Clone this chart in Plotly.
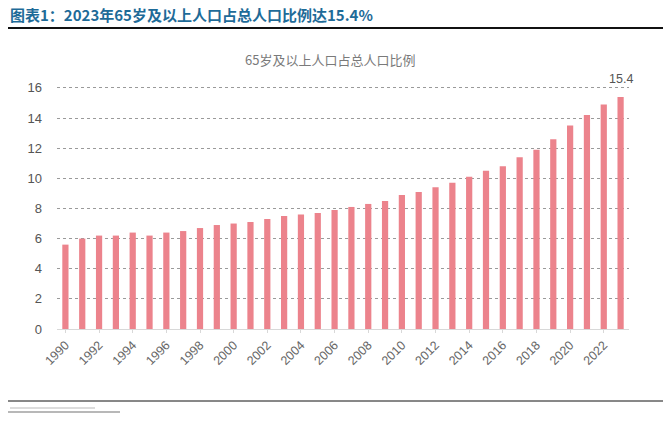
import plotly.graph_objects as go

years = list(range(1990, 2024))
ratio = [5.6, 6.0, 6.2, 6.2, 6.4, 6.2, 6.4, 6.5, 6.7, 6.9,
         7.0, 7.1, 7.3, 7.5, 7.6, 7.7, 7.9, 8.1, 8.3, 8.5,
         8.9, 9.1, 9.4, 9.7, 10.1, 10.5, 10.8, 11.4, 11.9, 12.6,
         13.5, 14.2, 14.9, 15.4]
tick_years = list(range(1990, 2024, 2))
tick_labels = [str(y) for y in tick_years]
y_ticks = [0, 2, 4, 6, 8, 10, 12, 14, 16]

fig = go.Figure()
fig.add_trace(go.Bar(
    x=years, y=ratio,
    marker=dict(color="#ec838c", line=dict(width=0)),
    showlegend=False,
))

W, H = 663, 421
L, R, T, B = 57, 34, 84, 92

fig.update_layout(
    width=W, height=H,
    margin=dict(l=L, r=R, t=T, b=B, pad=0),
    paper_bgcolor="white", plot_bgcolor="white",
    bargap=0.63,
    font=dict(family="Noto Sans CJK SC, Noto Sans, sans-serif", color="#666"),
    xaxis=dict(
        range=[1989.5, 2023.5],
        tickmode="array", tickvals=tick_years, ticktext=tick_labels,
        tickangle=-45,
        tickfont=dict(size=12.5, color="#666", family="Liberation Sans, Arial, sans-serif"),
        showgrid=False, showline=True, linecolor="#d8d8d8", linewidth=1,
        ticks="outside", ticklen=3, tickcolor="#d8d8d8", zeroline=False,
    ),
    yaxis=dict(
        range=[0, 16.26],
        tickvals=y_ticks,
        tickfont=dict(size=13, color="#555", family="Liberation Sans, Arial, sans-serif"),
        showgrid=True, gridcolor="#9a9a9a", griddash="dot", gridwidth=1,
        zeroline=False, showline=False, ticks="", ticklabelstandoff=14,
    ),
)

def px_x(px):
    return (px - L) / (W - L - R)

def px_y(py):
    return (H - B - py) / (H - T - B)

# Header title
fig.add_annotation(
    xref="paper", yref="paper",
    x=px_x(8), y=px_y(15),
    xanchor="left", yanchor="middle", showarrow=False,
    text="<b>图表1：2023年65岁及以上人口占总人口比例达15.4%</b>",
    font=dict(size=15, color="#1e6b98", family="Noto Sans CJK SC"),
)
# Chart title
fig.add_annotation(
    xref="paper", yref="paper",
    x=px_x(330), y=px_y(60),
    xanchor="center", yanchor="middle", showarrow=False,
    text="65岁及以上人口占总人口比例",
    font=dict(size=13, color="#7a7a7a", family="Noto Sans CJK SC"),
)
# Value label on last bar
fig.add_annotation(
    x=years[-1], y=ratio[-1],
    xanchor="center", yanchor="bottom", yshift=9, showarrow=False,
    text=f"{ratio[-1]}",
    font=dict(size=12.5, color="#555", family="Liberation Sans, Arial, sans-serif"),
)

# Header rule
fig.add_shape(type="line", xref="paper", yref="paper", layer="above",
              x0=px_x(8), x1=px_x(663), y0=px_y(28), y1=px_y(28),
              line=dict(color="#111", width=2))
# Bottom rule
fig.add_shape(type="line", xref="paper", yref="paper",
              x0=px_x(8), x1=px_x(663), y0=px_y(401), y1=px_y(401),
              line=dict(color="#111", width=1))
# Faint source line
fig.add_shape(type="line", xref="paper", yref="paper",
              x0=px_x(8), x1=px_x(120), y0=px_y(412), y1=px_y(412),
              line=dict(color="#b8b8b8", width=2))
fig.add_shape(type="line", xref="paper", yref="paper",
              x0=px_x(10), x1=px_x(95), y0=px_y(408), y1=px_y(408),
              line=dict(color="#dcdcdc", width=2))

fig.write_html("out.html", config={"displayModeBar": False},
               post_script="document.body.style.margin='0';")
